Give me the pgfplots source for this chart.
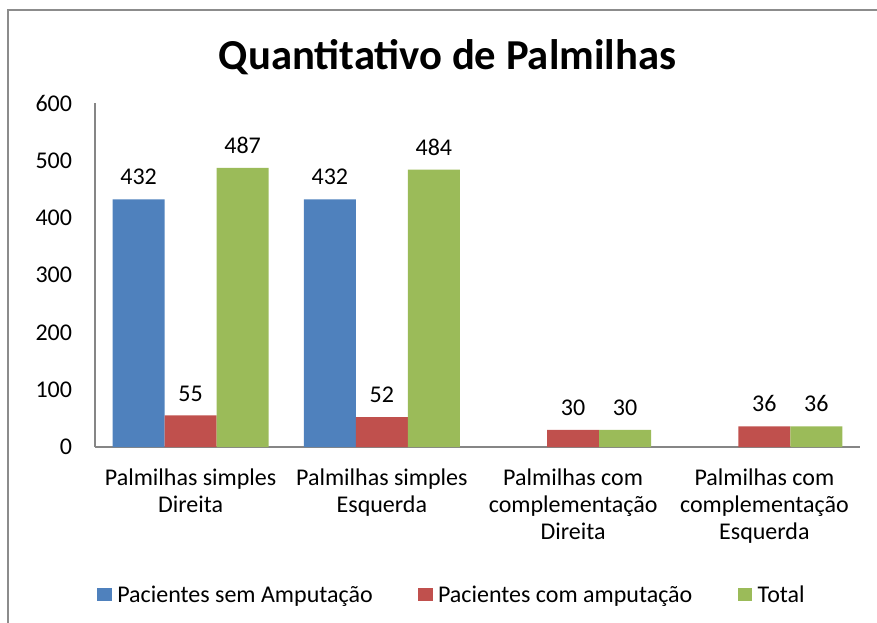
\documentclass[border=0pt]{standalone}
\usepackage{pgfplots}
\pgfplotsset{compat=1.18}
\usepackage{fontspec}
\setmainfont{Carlito}
\definecolor{sblue}{HTML}{4F81BD}
\definecolor{sred}{HTML}{C0504D}
\definecolor{sgreen}{HTML}{9BBB59}
\definecolor{axisgray}{HTML}{868686}
\definecolor{framegray}{HTML}{8C8C8C}
\begin{document}
\begin{tikzpicture}
\fill[framegray] (4.9pt,-20pt) rectangle (7.1pt,460.1pt);
\fill[framegray] (4.9pt,457.9pt) rectangle (690pt,460.1pt);
\node[anchor=base, font=\fontsize{32}{38}\selectfont\bfseries] at (335.6pt,414pt) {Quantitativo de Palmilhas};
\begin{axis}[
  at={(71.25pt,131.25pt)}, anchor=south west,
  scale only axis, width=573.75pt, height=258pt,
  ybar=0pt, bar width=39pt,
  xmin=-0.5, xmax=3.5, ymin=0, ymax=600,
  ytick={0,100,200,300,400,500,600},
  xtick={0,1,2,3},
  xticklabels={{Palmilhas simples\\Direita},{Palmilhas simples\\Esquerda},{Palmilhas com\\complementação\\Direita},{Palmilhas com\\complementação\\Esquerda}},
  axis x line=bottom, axis y line=left,
  axis line style={-, draw=axisgray, line width=0.8pt},
  major tick length=0pt,
  /pgf/number format/assume math mode=true,
  tick label style={font=\fontsize{18}{20.25}\selectfont, /pgf/number format/assume math mode=true},
  xticklabel style={align=center, anchor=north, inner sep=0pt, yshift=-16pt},
  yticklabel style={anchor=east, inner sep=0pt, xshift=-17pt},
  nodes near coords,
  every node near coord/.append style={font=\fontsize{18}{20.25}\selectfont, anchor=south, inner sep=0pt, yshift=10.5pt, text=black, /pgf/number format/assume math mode=true},
  legend columns=3,
  legend style={draw=none, fill=none, at={(0.0026,-0.43)}, anchor=west, inner sep=0pt,
    font=\fontsize{18}{20.25}\selectfont,
    /tikz/every even column/.append style={column sep=34pt},
    nodes={inner xsep=0pt, inner ysep=2pt}},
  legend image code/.code={\fill[#1, draw=none] (0pt,-4.9pt) rectangle (10.9pt,4.85pt); \path (15pt,0pt);},
]
\addplot[fill=sblue, draw=none] coordinates {(0,432) (1,432)};
\addplot[fill=sred, draw=none] coordinates {(0,55) (1,52) (2,30) (3,36)};
\addplot[fill=sgreen, draw=none] coordinates {(0,487) (1,484) (2,30) (3,36)};
\legend{Pacientes sem Amputação, Pacientes com amputação, Total}
\end{axis}
\pgfresetboundingbox
\path[use as bounding box] (0,0) rectangle (657.75pt,466.5pt);
\end{tikzpicture}
\end{document}
